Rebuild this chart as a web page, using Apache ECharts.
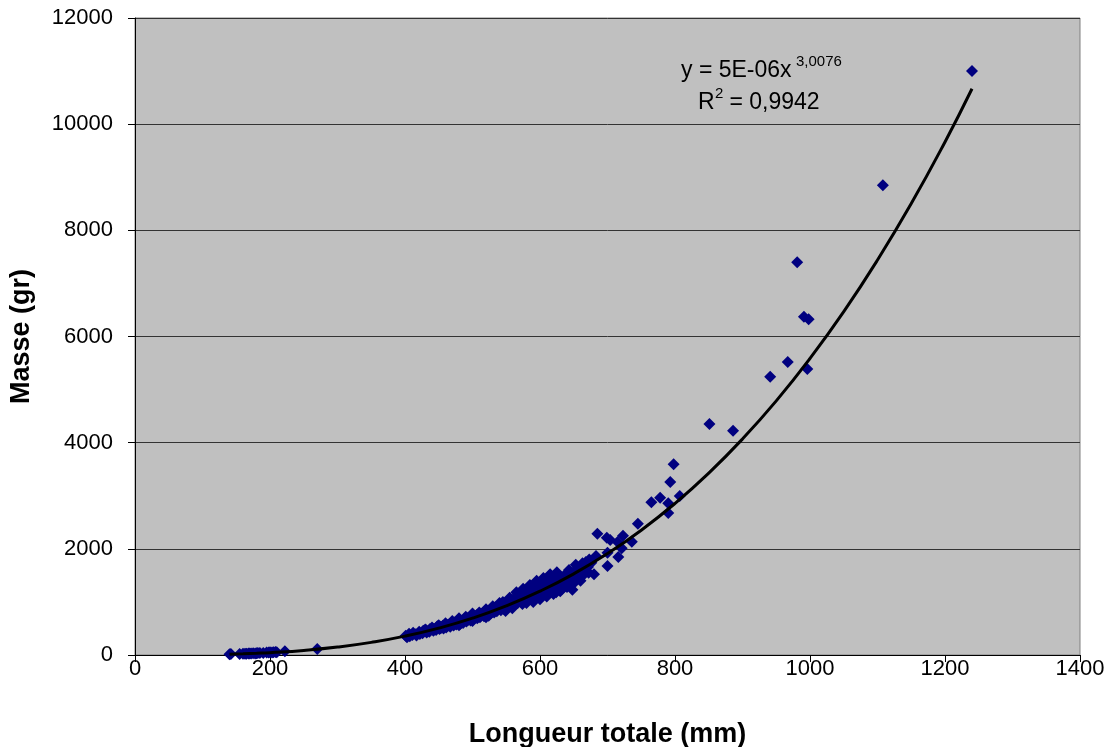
<!DOCTYPE html>
<html><head><meta charset="utf-8">
<script src="https://cdn.jsdelivr.net/npm/echarts@6/dist/echarts.min.js"></script>
<style>html,body{margin:0;padding:0;background:#fff}#c{width:1109px;height:747px}</style>
</head><body><div id="c"></div>
<script>
// Mesures : [longueur totale (mm), masse (gr)]
var smallFish = [[140,15],[142,18],[155,20],[160,22],[163,25],[165,24],[168,27],[170,28],[172,30],[175,32],[178,30],[180,35],[182,38],[185,36],[190,40],[195,45],[198,48],[200,50],[203,48],[205,52],[208,55],[210,50],[222,70],[270,113]];
var mainCluster = [[401,362],[403,335],[406,400],[407,352],[411,375],[412,420],[416,390],[417,365],[421,440],[422,395],[426,410],[427,455],[430,480],[431,470],[432,425],[433,445],[436,440],[437,490],[440,520],[441,500],[442,455],[443,480],[446,470],[447,520],[448,540],[450,560],[451,490],[452,530],[453,505],[456,550],[457,500],[458,525],[460,600],[461,520],[462,570],[463,545],[466,585],[467,530],[468,560],[470,640],[471,600],[472,555],[473,610],[476,575],[477,625],[478,600],[480,690],[480,560],[481,640],[482,590],[483,620],[486,605],[487,660],[488,680],[490,720],[491,630],[492,690],[493,655],[496,700],[497,650],[498,720],[500,780],[500,640],[501,670],[502,730],[503,700],[506,750],[507,690],[508,720],[510,800],[511,710],[512,775],[513,745],[516,800],[517,730],[518,765],[520,860],[520,710],[521,760],[522,820],[523,790],[524,740],[526,845],[527,780],[528,810],[530,920],[531,870],[532,800],[533,835],[534,900],[536,825],[537,880],[538,860],[540,980],[541,920],[542,845],[543,880],[544,950],[545,1000],[546,870],[547,935],[548,905],[549,830],[551,980],[552,890],[553,940],[554,1010],[555,1080],[556,920],[557,970],[558,1040],[559,880],[561,1000],[562,950],[563,1080],[564,1020],[565,1180],[566,1100],[567,980],[568,1050],[571,1010],[572,1070],[573,1150],[574,960],[575,1250],[576,1060],[577,1120],[578,1200],[580,980],[581,1100],[582,1040],[583,1160],[584,1250],[585,1320],[586,1120],[587,1190],[588,1060],[590,1000],[591,1150],[592,1230],[593,1090],[594,1300],[595,1400],[596,1180],[597,1260],[598,1120],[600,1050],[601,1200],[602,1290],[603,1150],[604,1350],[605,1450],[606,1230],[607,1400],[608,1170],[610,1100],[611,1280],[612,1450],[613,1210],[615,1520],[616,1330],[617,1240],[618,1470],[620,1150],[621,1350],[622,1270],[623,1420],[624,1180],[625,1560],[626,1300],[627,1390],[630,1200],[631,1430],[632,1330],[633,1250],[636,1500],[637,1380],[640,1280],[641,1460],[642,1350],[643,1600],[646,1520],[647,1420],[648,1230],[650,1350],[651,1580],[652,1470],[653,1700],[656,1550],[657,1640],[660,1400],[661,1620],[662,1480],[663,1727],[666,1700],[667,1600],[668,1750],[671,1660],[672,1550],[673,1800],[676,1740],[680,1520],[683,1865]];
var largeFish = [[685,2286],[699,2210],[700,1927],[700,1677],[704,2166],[715,2129],[716,1846],[721,2010],[723,2248],[736,2135],[745,2474],[765,2876],[778,2964],[790,2857],[790,2675],[793,3259],[798,3592],[807,2995],[851,4352],[886,4226],[941,5243],[967,5520],[981,7398],[991,6373],[996,5388],[998,6324],[1108,8850],[1240,11000]];
// Courbe de tendance (puissance)
var trendX = [140,160,180,200,250,300,350,400,450,500,550,600,650,700,750,800,850,900,950,1000,1050,1100,1150,1200,1240];
var trendY = [15,22.6,32.1,44,86.3,149,238,355,506,694,925,1202,1529,1911,2351,2855,3426,4069,4787,5586,6468,7440,8504,9665,10667];
var xTicks = {min:0, max:1400, interval:200};
var yTicks = {min:0, max:12000, interval:2000};
var eqLine1 = 'y = 5E-06x', eqExp = '3,0076', eqR = 'R', eqR2 = '2', eqR2val = ' = 0,9942';

var points = smallFish.concat(mainCluster, largeFish);
var trend = trendX.map(function(x,i){return [x, trendY[i]];});
var font = 'Liberation Sans, Arial, sans-serif';
var plain = function(v){return String(v);};
var chart = echarts.init(document.getElementById('c'), null, {renderer:'canvas'});
chart.setOption({
  animation:false,
  backgroundColor:'#ffffff',
  grid:{left:135, right:29, top:18, bottom:92, containLabel:false, outerBoundsMode:'none', show:true, backgroundColor:'#c0c0c0', borderColor:'#808080', borderWidth:1},
  xAxis:{type:'value', min:xTicks.min, max:xTicks.max, interval:xTicks.interval,
    name:'Longueur totale (mm)', nameLocation:'middle', nameGap:66,
    nameTextStyle:{fontFamily:font, fontSize:27, fontWeight:'bold', color:'#000'},
    axisLine:{show:true, lineStyle:{color:'#000', width:1}},
    axisTick:{show:true, inside:false, length:7, lineStyle:{color:'#000'}},
    axisLabel:{fontFamily:font, fontSize:22, color:'#000', margin:3, formatter:plain},
    splitLine:{show:false}},
  yAxis:{type:'value', min:yTicks.min, max:yTicks.max, interval:yTicks.interval,
    name:'Masse (gr)', nameLocation:'middle', nameGap:100,
    nameTextStyle:{fontFamily:font, fontSize:27, fontWeight:'bold', color:'#000'},
    axisLine:{show:true, lineStyle:{color:'#000', width:1}},
    axisTick:{show:true, inside:false, length:7, lineStyle:{color:'#000'}},
    axisLabel:{fontFamily:font, fontSize:22, color:'#000', margin:22, formatter:plain},
    splitLine:{show:true, lineStyle:{color:'#333', width:1}}},
  series:[
    {type:'scatter', data:points, symbol:'diamond', symbolSize:12, itemStyle:{color:'#000080', opacity:1}, z:2},
    {type:'line', data:trend, smooth:true, showSymbol:false, lineStyle:{color:'#000', width:3}, z:3}
  ],
  graphic:[
    {type:'text', left:681, top:59, style:{text:eqLine1, fontFamily:font, fontSize:23, fill:'#000'}},
    {type:'text', left:796, top:54, style:{text:eqExp, fontFamily:font, fontSize:15, fill:'#000'}},
    {type:'text', left:698, top:91, style:{text:eqR, fontFamily:font, fontSize:23, fill:'#000'}},
    {type:'text', left:715, top:86, style:{text:eqR2, fontFamily:font, fontSize:15, fill:'#000'}},
    {type:'text', left:723, top:91, style:{text:eqR2val, fontFamily:font, fontSize:23, fill:'#000'}}
  ]
});
</script></body></html>
